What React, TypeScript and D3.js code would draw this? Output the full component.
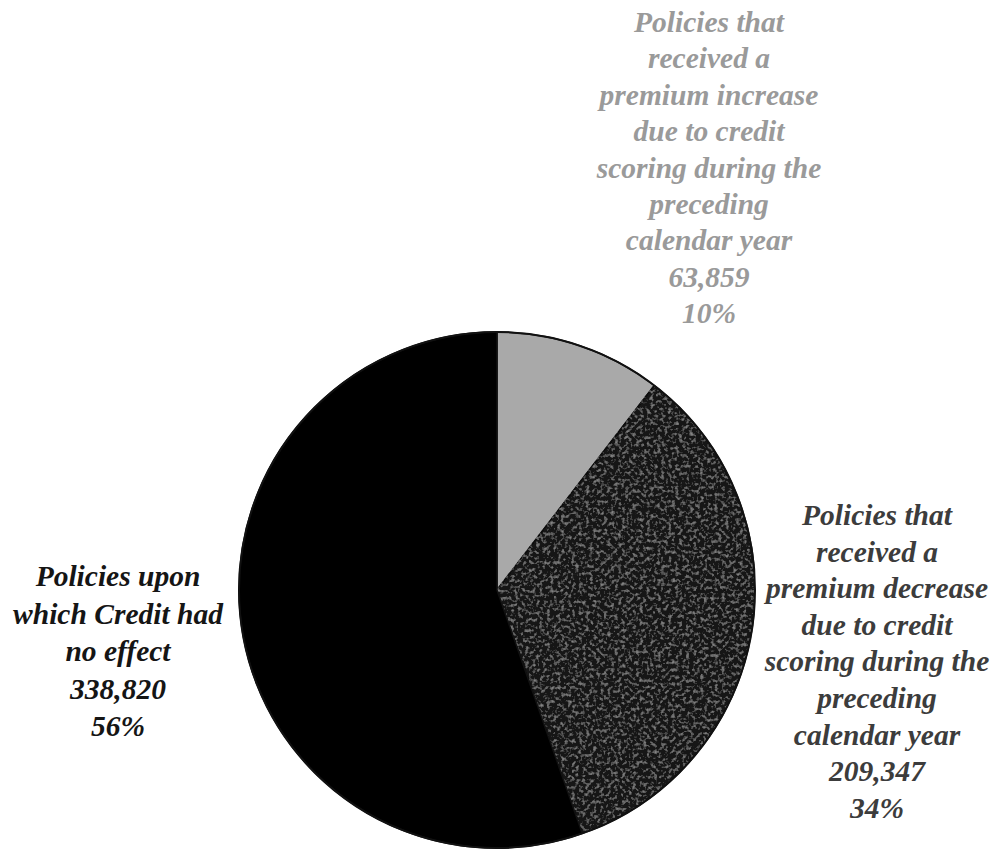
import React from "react";
import * as d3 from "d3";

const categories = [
  "Policies that received a premium increase due to credit scoring during the preceding calendar year",
  "Policies that received a premium decrease due to credit scoring during the preceding calendar year",
  "Policies upon which Credit had no effect",
];
const values = [63859, 209347, 338820];
const percents = ["10%", "34%", "56%"];
const labelLines = [
  ["Policies that", "received a", "premium increase", "due to credit", "scoring during the", "preceding", "calendar year"],
  ["Policies that", "received a", "premium decrease", "due to credit", "scoring during the", "preceding", "calendar year"],
  ["Policies upon", "which Credit had", "no effect"],
];

const W = 1000;
const H = 851;
const cx = 497;
const cy = 590;
const R = 258;
const sliceFills = ["#a9a9a9", "#141414", "#000000"];
const textFills = ["#9a9a9a", "#3c3c3c", "#151515"];
const labelPos = [
  { x: 709, y: 32, step: 36.4 },
  { x: 877, y: 525, step: 36.6 },
  { x: 118, y: 586, step: 37.5 },
];

export default function App() {
  const pie = d3.pie<number>().sort(null).value((d) => d);
  const arcs = pie(values);
  const arc = d3.arc<d3.PieArcDatum<number>>().innerRadius(0).outerRadius(R);
  const fmt = d3.format(",");

  return (
    <svg width={W} height={H} style={{ position: "absolute", left: 0, top: 0, background: "#fff" }}>
      <defs>
        <filter id="noise" x="0" y="0" width="100%" height="100%">
          <feTurbulence type="fractalNoise" baseFrequency="0.28" numOctaves="2" seed="5" result="t" />
          <feColorMatrix
            in="t"
            type="matrix"
            values="0 0 0 0 0.4  0 0 0 0 0.4  0 0 0 0 0.4  1.6 0 0 0 -0.8"
            result="n"
          />
          <feComposite in="n" in2="SourceGraphic" operator="in" result="nn" />
          <feMerge>
            <feMergeNode in="SourceGraphic" />
            <feMergeNode in="nn" />
          </feMerge>
        </filter>
      </defs>
      <rect x={0} y={0} width={W} height={H} fill="#fff" />
      <g transform={`translate(${cx},${cy})`}>
        {arcs.map((a, i) => (
          <path
            key={i}
            d={arc(a) || ""}
            fill={sliceFills[i]}
            stroke="#111"
            strokeWidth={1.5}
            filter={i === 1 ? "url(#noise)" : undefined}
          />
        ))}
        <circle r={R} fill="none" stroke="#111" strokeWidth={2} />
      </g>
      {categories.map((c, i) => {
        const lines = [...labelLines[i], fmt(values[i]), percents[i]];
        const p = labelPos[i];
        return (
          <text
            key={c}
            textAnchor="middle"
            style={{
              fontFamily: "'Liberation Serif', 'Times New Roman', Times, serif",
              fontStyle: "italic",
              fontWeight: 700,
              fontSize: "29.5px",
            }}
            fill={textFills[i]}
          >
            {lines.map((l, j) => (
              <tspan key={j} x={p.x} y={p.y + j * p.step}>
                {l}
              </tspan>
            ))}
          </text>
        );
      })}
    </svg>
  );
}
